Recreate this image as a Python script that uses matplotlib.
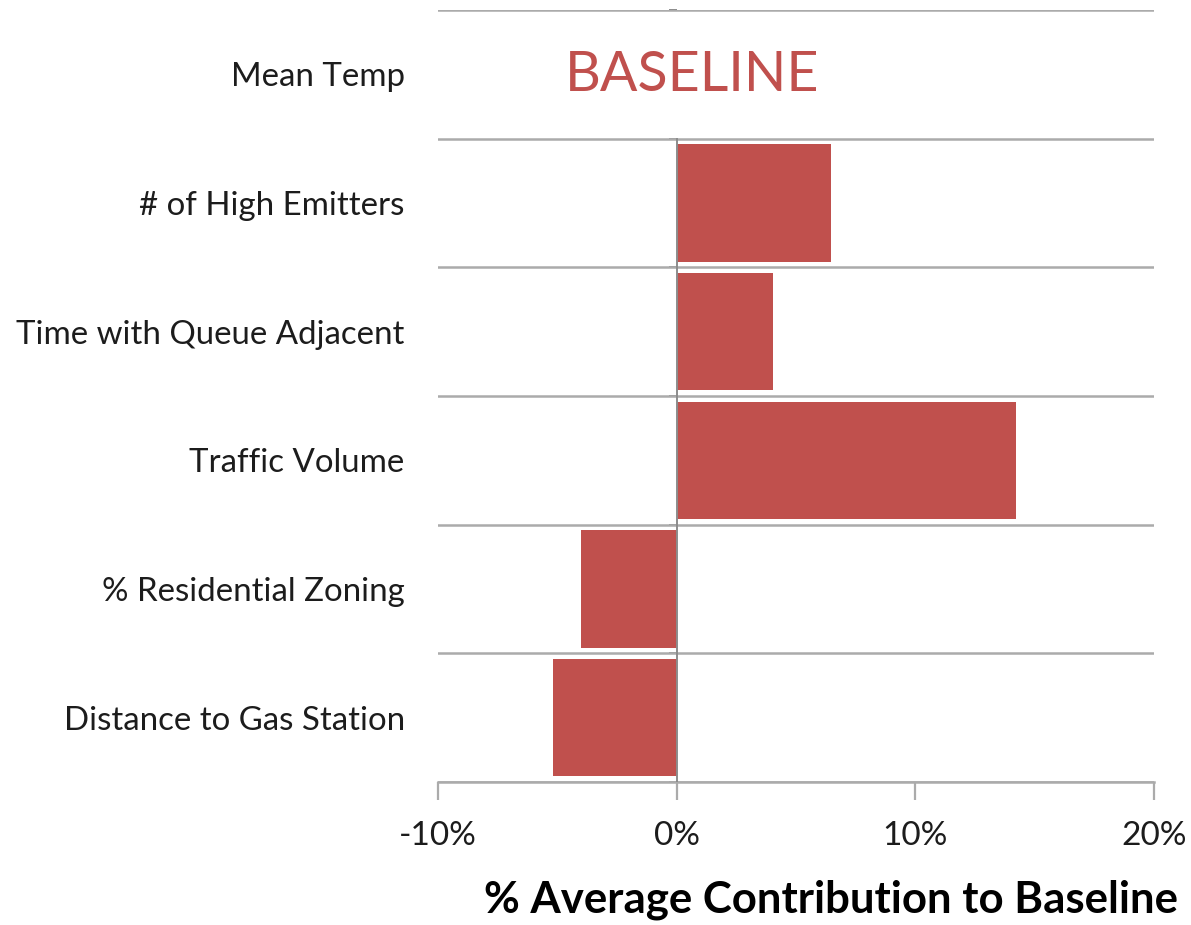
import matplotlib
matplotlib.use("Agg")
import matplotlib.pyplot as plt
import numpy as np

# categories listed bottom -> top
categories = ["Distance to Gas Station", "% Residential Zoning", "Traffic Volume",
              "Time with Queue Adjacent", "# of High Emitters", "Mean Temp"]
contrib = [-5.2, -4.0, 14.2, 4.05, 6.45, 0.0]   # % average contribution
xticks = [-10, 0, 10, 20]
xtick_labels = ["-10%", "0%", "10%", "20%"]

bar_color = "#c0504d"
grid_color = "#ababab"
text_color = "#1c1c1c"

plt.rcParams['font.family'] = ['Lato', 'DejaVu Sans']

fig = plt.figure(figsize=(11.91, 9.25), dpi=100)
ax = fig.add_axes([0.3678, 0.1546, 0.6011, 0.8346])

y = np.arange(len(categories))
ax.barh(y, contrib, height=0.91, color=bar_color, zorder=2)

ax.set_xlim(-10, 20)
ax.set_ylim(-0.5, len(categories) - 0.5)

# row separators
bounds = np.arange(-0.5, len(categories), 1.0)
ax.set_yticks(y)
ax.set_yticklabels(categories, fontsize=23.8, color=text_color)
ax.set_yticks(bounds, minor=True)
ax.grid(True, which="minor", axis="y", color=grid_color, lw=1.8, zorder=1)
ax.tick_params(axis="y", which="both", length=0, pad=24)

# zero line (not drawn through the top row)
ax.axvline(0, ymin=0, ymax=(len(categories) - 1) / len(categories),
           color="#8c8c8c", lw=1.4, zorder=3)

# little category ticks sitting on the zero line
zero_frac = (0 - xticks[0]) / (xticks[-1] - xticks[0])
sec = ax.secondary_yaxis(zero_frac)
sec.set_yticks(bounds)
sec.set_yticklabels([])
sec.tick_params(length=6, width=1.4, color="#8c8c8c")
sec.spines["left"].set_visible(False)

ax.set_xticks(xticks)
ax.set_xticklabels(xtick_labels, fontsize=24, color=text_color)
ax.tick_params(axis="x", length=13, width=1.6, color=grid_color, pad=15)

for s in ["top", "right", "left"]:
    ax.spines[s].set_visible(False)
ax.spines["bottom"].set_color(grid_color)
ax.spines["bottom"].set_linewidth(1.8)

fig.text(0.989, 0.027, "% Average Contribution to Baseline", ha="right", va="center",
         fontsize=31.5, fontweight="bold", color="black")

ax.text(0.355, 0.915, "BASELINE", transform=ax.transAxes, ha="center", va="center",
        fontsize=40, color=bar_color)

fig.savefig("out.png", dpi=100, facecolor="white")
